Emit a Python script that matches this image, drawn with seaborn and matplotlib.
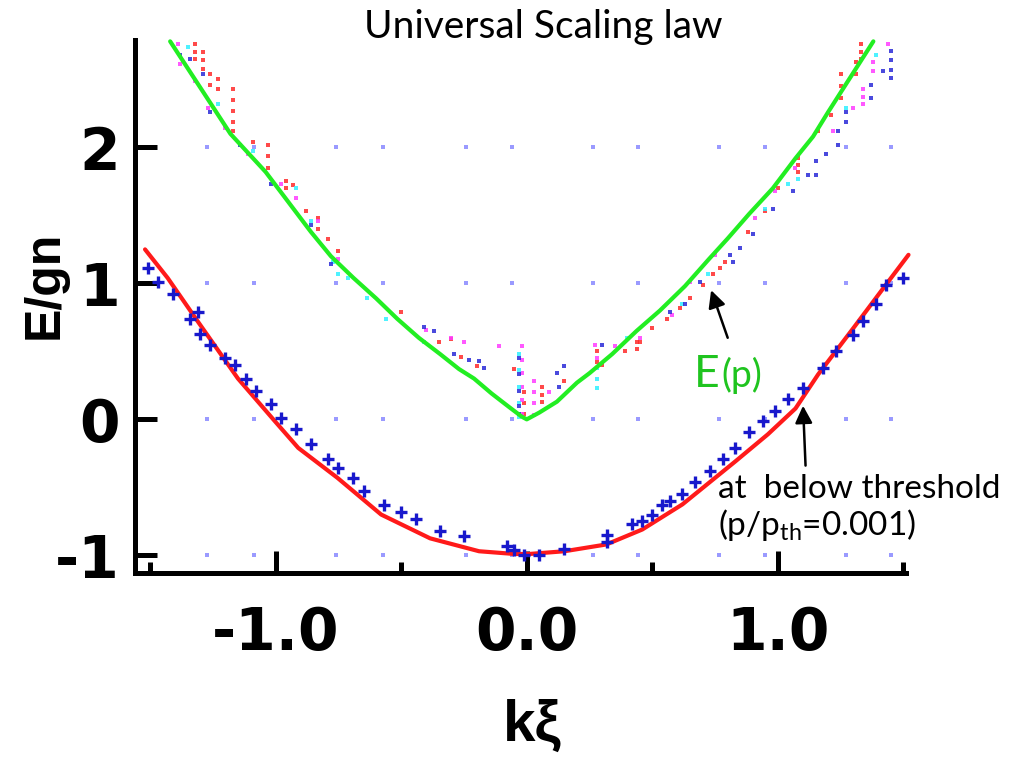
import numpy as np
import pandas as pd
import matplotlib
matplotlib.use("Agg")
import matplotlib.pyplot as plt
import seaborn as sns

# ---------------- data ----------------
# Bogoliubov-like dispersion E(p) (green)
green_x = [-1.42, -1.30, -1.18, -1.04, -0.95, -0.86, -0.78, -0.69, -0.60, -0.516, -0.43, -0.345,
           -0.27, -0.21, -0.14, -0.07, -0.02, 0.0, 0.05, 0.12, 0.20, 0.25, 0.34, 0.437, 0.53,
           0.63, 0.726, 0.80, 0.885, 0.98, 1.07, 1.14, 1.20, 1.29, 1.38]
green_y = [2.78, 2.44, 2.10, 1.82, 1.60, 1.38, 1.20, 1.04, 0.89, 0.74, 0.60, 0.48,
           0.37, 0.30, 0.19, 0.09, 0.02, 0.0, 0.05, 0.13, 0.27, 0.34, 0.48, 0.65, 0.80,
           0.98, 1.18, 1.33, 1.51, 1.70, 1.92, 2.08, 2.26, 2.52, 2.78]

# below-threshold curve (red)
red_x = [-1.52, -1.43, -1.31, -1.15, -1.00, -0.91, -0.754, -0.58, -0.385, -0.19, -0.05, 0.01,
         0.15, 0.317, 0.46, 0.62, 0.83, 0.96, 1.07, 1.16, 1.30, 1.43, 1.52]
red_y = [1.25, 1.04, 0.72, 0.30, -0.02, -0.21, -0.43, -0.70, -0.875, -0.97, -0.99, -0.99,
         -0.97, -0.92, -0.81, -0.625, -0.31, -0.11, 0.08, 0.33, 0.67, 0.99, 1.21]

# below-threshold simulation points (blue crosses)
cross_x = [-1.51, -1.47, -1.41, -1.31, -1.34, -1.30, -1.26, -1.20, -1.16, -1.12, -1.08, -1.02,
           -0.98, -0.92, -0.86, -0.79, -0.75, -0.69, -0.65, -0.57, -0.50, -0.44, -0.345, -0.25,
           -0.08, -0.05, -0.01, 0.05, 0.15, 0.32, 0.32, 0.42, 0.46, 0.50, 0.54, 0.57, 0.62,
           0.67, 0.73, 0.78, 0.83, 0.885, 0.94, 0.99, 1.04, 1.10, 1.18, 1.23, 1.30, 1.34,
           1.39, 1.43, 1.50]
cross_y = [1.11, 1.01, 0.92, 0.79, 0.74, 0.63, 0.55, 0.45, 0.40, 0.30, 0.21, 0.11,
           0.01, -0.07, -0.18, -0.29, -0.36, -0.43, -0.53, -0.63, -0.68, -0.73, -0.82, -0.86,
           -0.93, -0.96, -1.00, -1.00, -0.95, -0.85, -0.90, -0.77, -0.75, -0.70, -0.63, -0.60, -0.55,
           -0.46, -0.38, -0.29, -0.21, -0.09, -0.01, 0.06, 0.15, 0.23, 0.38, 0.50, 0.62, 0.72,
           0.85, 0.99, 1.04]

# excitation spectra measured at several pumping powers (small dots)
dots_red_x = [-1.32, -1.32, -1.32, -1.29, -1.29, -1.29, -1.26, -1.26, -1.23, -1.23, -1.17, -1.17,
              -1.17, -1.17, -1.17, -1.09, -1.03, -1.03, -1.03, -0.96, -0.96, -0.93, -0.88, -0.83,
              -0.83, -0.79, -0.75, -0.50, -0.35, -0.30, -0.26, -0.20, -0.05, -0.01, -0.01, -0.01,
              0.06, 0.06, 0.06, 0.15, 0.28, 0.28, 0.30, 0.39, 0.44, 0.44, 0.45, 0.50, 0.56, 0.61,
              0.65, 0.70, 0.74, 0.77, 0.79, 0.88, 0.95, 1.00, 1.08, 1.08, 1.08, 1.16, 1.21, 1.25,
              1.25, 1.25, 1.31, 1.31, 1.33, 1.33, 1.33]
dots_red_y = [2.76, 2.70, 2.65, 2.70, 2.64, 2.58, 2.54, 2.46, 2.50, 2.43, 2.43, 2.35,
              2.27, 2.19, 2.12, 2.04, 2.02, 1.94, 1.85, 1.75, 1.70, 1.72, 1.53, 1.48,
              1.40, 1.33, 1.24, 0.79, 0.57, 0.59, 0.46, 0.39, 0.37, 0.20, 0.12, 0.04,
              0.24, 0.18, 0.13, 0.28, 0.50, 0.42, 0.40, 0.50, 0.57, 0.52, 0.57, 0.67, 0.74, 0.82,
              0.89, 0.99, 1.07, 1.11, 1.16, 1.38, 1.53, 1.70, 1.92, 1.87, 1.82, 2.12, 2.24, 2.54,
              2.45, 2.36, 2.63, 2.54, 2.76, 2.70, 2.65]

dots_mag_x = [-1.39, -1.38, -1.32, -1.27, -1.20, -1.11, -0.98, -0.92, -0.83, -0.75, -0.40, -0.30,
              -0.25, -0.11, -0.02, -0.02, -0.02, -0.02, -0.02, -0.02, 0.03, 0.03, 0.03, 0.03,
              0.09, 0.27, 0.28, 0.35, 0.45, 0.58, 0.65, 0.75, 0.91, 0.99, 1.07, 1.22, 1.30,
              1.34, 1.34, 1.34, 1.38, 1.38, 1.44]
dots_mag_y = [2.76, 2.61, 2.49, 2.29, 2.14, 1.95, 1.73, 1.63, 1.46, 1.18, 0.66, 0.60,
              0.57, 0.54, 0.54, 0.44, 0.34, 0.24, 0.14, 0.04, 0.28, 0.20, 0.12, 0.03,
              0.20, 0.55, 0.45, 0.54, 0.60, 0.77, 1.01, 1.21, 1.48, 1.68, 1.85, 2.12, 2.29,
              2.43, 2.37, 2.32, 2.63, 2.56, 2.76]

dots_cyan_x = [-1.35, -1.23, -1.09, -0.92, -0.86, -0.77, -0.75, -0.71, -0.635, -0.56, -0.41,
               -0.03, -0.03, -0.03, -0.03, -0.03, 0.28, 0.28, 0.28, 0.40, 0.62, 0.72, 0.95,
               1.04, 1.08, 1.27, 1.39]
dots_cyan_y = [2.74, 2.32, 1.97, 1.70, 1.46, 1.16, 1.07, 1.04, 0.89, 0.74, 0.57,
               0.48, 0.36, 0.24, 0.12, 0.02, 0.38, 0.30, 0.23, 0.60, 0.85, 1.07, 1.55,
               1.73, 1.77, 2.29, 2.68]

dots_blue_x = [-1.38, -1.34, -1.29, -1.26, -1.14, -1.02, -0.86, -0.78, -0.41, -0.37, -0.29, -0.23,
               -0.19, -0.17, -0.03, -0.03, -0.03, -0.03, -0.03, 0.12, 0.13, 0.15, 0.30, 0.57,
               0.63, 0.69, 0.81, 0.82, 0.85, 0.90, 0.98, 1.06, 1.12, 1.15, 1.15, 1.19, 1.24,
               1.24, 1.27, 1.27, 1.37, 1.37, 1.42, 1.45, 1.45, 1.45, 1.45]
dots_blue_y = [2.68, 2.65, 2.54, 2.26, 2.02, 1.73, 1.43, 1.14, 0.68, 0.65, 0.48, 0.44,
               0.43, 0.38, 0.45, 0.33, 0.21, 0.10, 0.04, 0.34, 0.24, 0.39, 0.55, 0.79,
               0.85, 1.01, 1.21, 1.16, 1.26, 1.36, 1.55, 1.68, 1.80, 1.90, 1.80, 1.95, 2.12,
               2.02, 2.26, 2.19, 2.46, 2.36, 2.56, 2.71, 2.64, 2.57, 2.51]

# faint dotted background grid
grid_x = [-1.274, -1.087, -0.758, -0.571, -0.242, -0.06, 0.262, 0.444, 0.766, 0.948, 1.27, 1.452]
grid_y = [-1, 0, 1, 2]

x_major = [-1.0, 0.0, 1.0]
x_major_labels = ["-1.0", "0.0", "1.0"]
x_minor = [-1.5, -0.5, 0.5, 1.5]
y_major = [-1, 0, 1, 2]
y_major_labels = ["-1", "0", "1", "2"]

# ---------------- style ----------------
sns.set_style("white")
plt.rcParams["font.family"] = ["Liberation Sans", "DejaVu Sans"]
plt.rcParams["mathtext.fontset"] = "custom"
plt.rcParams["mathtext.rm"] = "Lato"
plt.rcParams["mathtext.it"] = "Lato"

W, H = 1035, 759
fig = plt.figure(figsize=(W / 100, H / 100), dpi=100)
ax = fig.add_axes([135 / W, 1 - 573 / H, 771 / W, 533 / H])


def fpx(x, y):
    return x / W, 1 - y / H


gx, gy = np.meshgrid(grid_x, grid_y)
grid_df = pd.DataFrame({"x": gx.ravel(), "y": gy.ravel()})
sns.scatterplot(data=grid_df, x="x", y="y", ax=ax, color="#9a9aff", marker="s",
                s=6, linewidth=0, zorder=1)

for xs, ys, c in [(dots_red_x, dots_red_y, "#ff2a2a"),
                  (dots_mag_x, dots_mag_y, "#ff3cff"),
                  (dots_cyan_x, dots_cyan_y, "#2ff0ff"),
                  (dots_blue_x, dots_blue_y, "#2a2ad8")]:
    d = pd.DataFrame({"x": xs, "y": ys})
    sns.scatterplot(data=d, x="x", y="y", ax=ax, color=c, marker="s", s=9,
                    linewidth=0, alpha=0.85, zorder=2)

gdf = pd.DataFrame({"x": green_x, "y": green_y})
sns.lineplot(data=gdf, x="x", y="y", ax=ax, sort=False, color="#22ee22", lw=3.0,
             zorder=3, clip_on=False)

rdf = pd.DataFrame({"x": red_x, "y": red_y})
sns.lineplot(data=rdf, x="x", y="y", ax=ax, sort=False, color="#ff1a1a", lw=3.0,
             zorder=3, clip_on=False)

cdf = pd.DataFrame({"x": cross_x, "y": cross_y})
sns.scatterplot(data=cdf, x="x", y="y", ax=ax, color="#1818cc", marker="+", s=80,
                linewidth=2.4, zorder=4, clip_on=False)

ax.set_xlim(-1.56, 1.51)
ax.set_ylim(-1.13, 2.79)

for s in ["top", "right"]:
    ax.spines[s].set_visible(False)
for s in ["left", "bottom"]:
    ax.spines[s].set_linewidth(3.6)
    ax.spines[s].set_color("black")

ax.set_xticks(x_major)
ax.set_xticklabels(x_major_labels)
ax.set_xticks(x_minor, minor=True)
ax.set_yticks(y_major)
ax.set_yticklabels(y_major_labels)
ax.tick_params(axis="both", which="both", bottom=True, left=True, top=False, right=False)
ax.tick_params(axis="both", which="major", direction="in", length=16, width=3.6,
               color="black", labelcolor="black")
ax.tick_params(axis="x", which="minor", direction="in", length=8, width=3.6, color="black")
ax.tick_params(axis="x", which="major", pad=23)
ax.tick_params(axis="y", which="major", pad=11)
for lab in ax.get_xticklabels() + ax.get_yticklabels():
    lab.set_fontsize(42)
    lab.set_fontweight("bold")
    lab.set_fontfamily("DejaVu Sans")
    lab.set_color("black")

ax.set_xlabel("kξ", fontsize=42, fontweight="bold", family="Liberation Sans", color="black")
ax.xaxis.set_label_coords(0.515, -0.236)
ax.set_ylabel("E/gn", fontsize=36, fontweight="bold", family="Liberation Sans", color="black")
ax.yaxis.set_label_coords(-0.088, 0.54)

# title
fig.text(*fpx(543, 38), "Universal Scaling law", ha="center", va="baseline",
         fontsize=28, family="Lato", color="black")

# annotations
ax.annotate("", xy=(0.734, 0.95), xytext=(0.80, 0.60),
            arrowprops=dict(arrowstyle="-|>", color="black", lw=1.8,
                            mutation_scale=26, shrinkA=0, shrinkB=0))
ax.annotate("", xy=(1.10, 0.10), xytext=(1.11, -0.34),
            arrowprops=dict(arrowstyle="-|>", color="black", lw=1.8,
                            mutation_scale=26, shrinkA=0, shrinkB=0))

fig.text(*fpx(694, 387), "E", ha="left", va="baseline", fontsize=32,
         family="Lato", color="#1fc41f")
fig.text(*fpx(721, 387), "(p)", ha="left", va="baseline", fontsize=27,
         family="Lato", color="#1fc41f")

fig.text(*fpx(718, 498), "at  below threshold", ha="left", va="baseline",
         fontsize=24, family="Lato", color="black")
fig.text(*fpx(718, 535), r"(p/p$_\mathrm{th}$=0.001)", ha="left", va="baseline",
         fontsize=24, family="Lato", color="black")

fig.savefig("out.png", dpi=100)
